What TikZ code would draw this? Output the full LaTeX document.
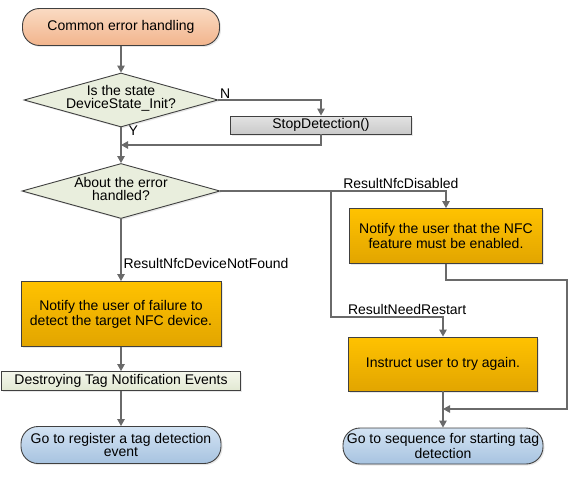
\documentclass[tikz,border=0pt]{standalone}
\usepackage{fontspec}
\setmainfont{Liberation Sans}
\usetikzlibrary{shapes.geometric,arrows.meta,shadows}
\definecolor{edge}{HTML}{404040}
\definecolor{wire}{HTML}{6A6A6A}
\definecolor{peachtop}{HTML}{FADBC3}
\definecolor{peachbot}{HTML}{F2B48C}
\definecolor{skytop}{HTML}{D3E3F3}
\definecolor{skybot}{HTML}{A7C3E0}
\definecolor{ambertop}{HTML}{FFC200}
\definecolor{amberbot}{HTML}{E2A500}
\definecolor{sage}{HTML}{E9EEDD}
\definecolor{palegreen}{HTML}{F4F7EC}
\definecolor{palegreenbot}{HTML}{E2E8D2}

\begin{document}
\begin{tikzpicture}[x=1pt,y=-1pt,>={Triangle[length=7pt,width=7.5pt]},
    every node/.style={font=\fontsize{14}{15}\selectfont,inner sep=2pt},
    base/.style={draw=edge,line width=0.9pt,align=center,
      drop shadow={opacity=0.18,shadow xshift=1.5pt,shadow yshift=-1.5pt}},
    terminal/.style={base,rounded corners=17pt},
    startbox/.style={terminal,top color=peachtop,bottom color=peachbot},
    endbox/.style={terminal,top color=skytop,bottom color=skybot,
      font=\fontsize{14}{13}\selectfont},
    decision/.style={base,diamond,inner sep=0pt,fill=sage},
    dtext/.style={align=center,font=\fontsize{14}{13}\selectfont},
    callbox/.style={base,top color=gray!22,bottom color=gray!42},
    notebox/.style={base,top color=ambertop,bottom color=amberbot},
    plainbox/.style={base,top color=palegreen,bottom color=palegreenbot},
    flow/.style={->,draw=wire,line width=1.1pt}]

  \useasboundingbox (0,0) rectangle (569,476);

  \node[startbox,minimum width=197pt,minimum height=37pt] (start) at (121,27) {Common error handling};
  \node[decision,minimum width=194pt,minimum height=54pt] (q1) at (121,100) {};
  \node[dtext] (q1text) at (121,98) {Is the state\\DeviceState\_Init?};
  \node[callbox,minimum width=181pt,minimum height=18pt,inner sep=0pt] (stop) at (321,125) {StopDetection()};
  \node[decision,minimum width=198pt,minimum height=55pt] (q2) at (121,191) {};
  \node[dtext] (q2text) at (121,189) {About the error\\handled?};
  \node[notebox,minimum width=193pt,minimum height=55pt] (nfcoff) at (446,236) {Notify the user that the NFC\\feature must be enabled.};
  \node[notebox,minimum width=200pt,minimum height=65pt] (notfound) at (121,314) {Notify the user of failure to\\detect the target NFC device.};
  \node[plainbox,minimum width=239pt,minimum height=19pt,inner sep=0pt] (destroy) at (121,381) {Destroying Tag Notification Events};
  \node[notebox,minimum width=189pt,minimum height=54pt] (restart) at (443,364) {Instruct user to try again.};
  \node[endbox,minimum width=200pt,minimum height=37pt] (endreg) at (121,445) {Go to register a tag detection\\event};
  \node[endbox,minimum width=200pt,minimum height=36pt] (endseq) at (443,446) {Go to sequence for starting tag\\detection};

  \coordinate (join1) at (121,145);
  \coordinate (split) at (331,191);
  \coordinate (turn) at (331,317);
  \coordinate (loop) at (567,280);
  \coordinate (join2) at (443,409);

  \draw[flow] (start) -- (q1);
  \draw[flow] (q1.east) -| (stop.north) node[pos=0,above right,inner sep=1pt] {N};
  \draw[flow] (stop.south) |- (join1);
  \draw[flow] (q1.south) -- (q2.north) node[pos=0.1,right=5pt] {Y};
  \draw[flow] (q2.east) -| (nfcoff.north) node[pos=0.4,above] {ResultNfcDisabled};
  \draw[flow] (split) -- (turn) -| (restart.north) node[pos=0.34,above] {ResultNeedRestart};
  \draw[flow] (q2.south) -- (notfound.north) node[pos=0.72,right] {ResultNfcDeviceNotFound};
  \draw[flow] (notfound) -- (destroy);
  \draw[flow] (destroy) -- (endreg);
  \draw[flow] (nfcoff.south) |- (loop) |- (join2);
  \draw[flow] (restart) -- (endseq);
\end{tikzpicture}
\end{document}
